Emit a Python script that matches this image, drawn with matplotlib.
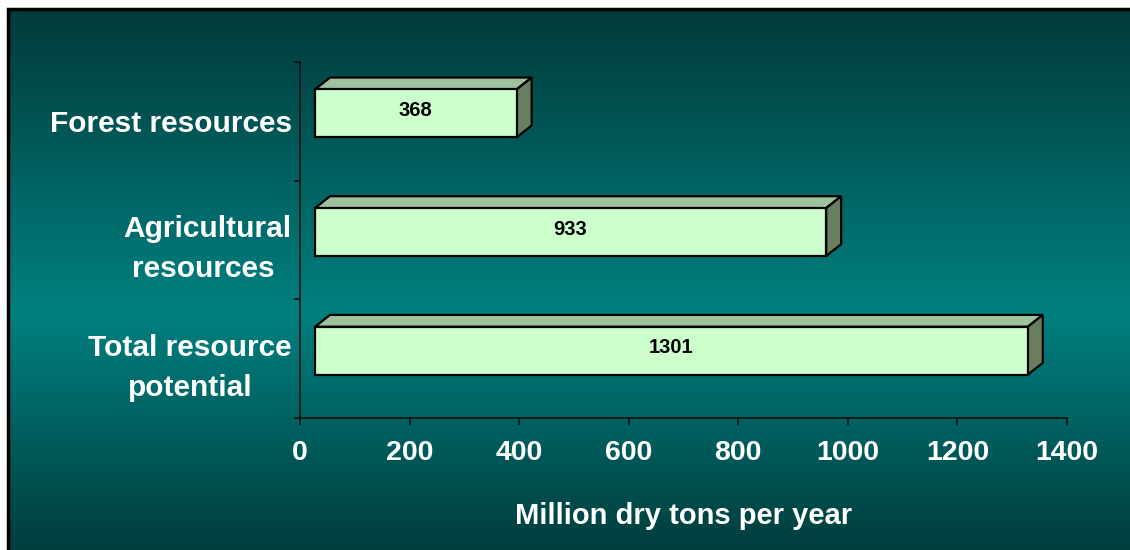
import numpy as np
import matplotlib.pyplot as plt
from matplotlib.colors import LinearSegmentedColormap
from matplotlib.patches import Polygon, Rectangle

# data
categories = ["Total resource\npotential", "Agricultural\nresources ", "Forest resources"]
values = [1301, 933, 368]
xticks = [0, 200, 400, 600, 800, 1000, 1200, 1400]
xlabel = "Million dry tons per year"

plt.rcParams['font.family'] = ['Liberation Sans', 'DejaVu Sans']
plt.rcParams['font.weight'] = 'bold'

fig = plt.figure(figsize=(11.3, 5.5), dpi=100, facecolor='white')

# gradient background panel, frame only visible on top and left
bg = fig.add_axes([8 / 1130, -0.02, 1.02, 1 - 9 / 550 + 0.02])
bg.set_axis_off()
cmap = LinearSegmentedColormap.from_list(
    "teal", [(0, "#023a3a"), (0.55, "#008080"), (1.0, "#013a3a")])
grad = np.linspace(0, 1, 256).reshape(-1, 1)
bg.imshow(grad, aspect='auto', cmap=cmap, extent=[0, 1, 0, 1], origin='upper')
bg.add_patch(Rectangle((0, 0), 1, 1, transform=bg.transAxes, fill=False,
                       edgecolor='black', lw=2.5, clip_on=False))
bg.set_xlim(0, 1)
bg.set_ylim(0, 1)

ax = fig.add_axes([300 / 1130, 132 / 550, 767 / 1130, 356 / 550])
ax.patch.set_alpha(0)
ax.set_xlim(0, 1400)
ax.set_ylim(0, 3)

# 3d bar geometry
dx = 27.4      # depth in x data units
dy = 0.10      # depth in y data units
h = 0.404      # front face height
shift = 0.067

front_c = "#ccffcc"
top_c = "#9ec29e"
side_c = "#66805f"

for i, (cat, v) in enumerate(zip(categories, values)):
    yc = i + 0.5 + shift
    y0, y1 = yc - h / 2, yc + h / 2
    x0, x1 = dx, dx + v
    front = Polygon([(x0, y0), (x1, y0), (x1, y1), (x0, y1)],
                    facecolor=front_c, edgecolor='black', lw=1.6, zorder=3)
    top = Polygon([(x0, y1), (x1, y1), (x1 + dx, y1 + dy), (x0 + dx, y1 + dy)],
                  facecolor=top_c, edgecolor='black', lw=1.6, zorder=2)
    side = Polygon([(x1, y0), (x1 + dx, y0 + dy), (x1 + dx, y1 + dy), (x1, y1)],
                   facecolor=side_c, edgecolor='black', lw=1.6, zorder=2)
    for p in (top, side, front):
        ax.add_patch(p)
    ax.text((x0 + x1) / 2, yc + 0.025, str(v), ha='center', va='center',
            fontsize=14.5, fontweight='bold', color='black', zorder=4)

# axes styling
for s in ('top', 'right'):
    ax.spines[s].set_visible(False)
for s in ('left', 'bottom'):
    ax.spines[s].set_color('#111111')
    ax.spines[s].set_linewidth(1.2)

ax.set_xticks(xticks)
ax.set_xticklabels([str(t) for t in xticks], fontsize=20.5, fontweight='bold', color='white')
ax.tick_params(axis='x', direction='out', length=5, width=1.2, color='#111111', pad=11)

ax.set_yticks([0.5, 1.5, 2.5])
ax.set_yticklabels(categories, fontsize=21.5, fontweight='bold', color='white',
                   multialignment='center', linespacing=1.55)
ax.tick_params(axis='y', which='major', length=0, pad=6)
ax.set_yticks([0, 1, 2, 3], minor=True)
ax.tick_params(axis='y', which='minor', direction='out', length=4, width=1.2, color='#111111')

ax.set_xlabel(xlabel, fontsize=21, fontweight='bold', color='white', labelpad=26)

fig.savefig("out.png", dpi=100, facecolor='white')
